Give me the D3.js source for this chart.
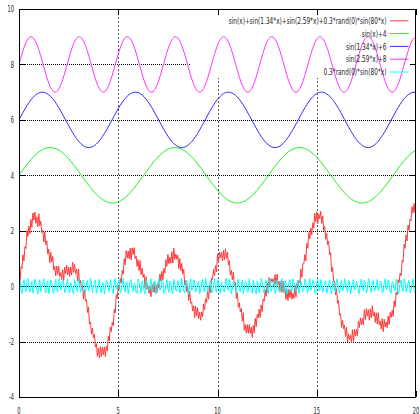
<!DOCTYPE html>
<html><head><meta charset="utf-8">
<script src="https://cdn.jsdelivr.net/npm/d3@7"></script>
<style>html,body{margin:0;padding:0;background:#fff;} svg{display:block;}</style>
</head><body>
<svg id="chart" width="420" height="414"></svg>
<script>
// ---------------- data ----------------
const xTicks = [0, 5, 10, 15, 20];
const yTicks = [-4, -2, 0, 2, 4, 6, 8, 10];
const seriesLabels = [
  "sin(x)+sin(1.34*x)+sin(2.59*x)+0.3*rand(0)*sin(80*x)",
  "sin(x)+4",
  "sin(1.34*x)+6",
  "sin(2.59*x)+8",
  "0.3*rand(0)*sin(80*x)"
];
// sample spacing along x for the listed values
const fineStep = 0.05;  // red, cyan (noisy series)
const coarseStep = 0.2; // green, blue, magenta (smooth series)

const redValues = [
  0, 0.10, 0.70, 0.64, 1.14, 0.91, 1.42, 1.36, 2.00, 1.79, 2.17, 1.89, 2.41, 2.12, 2.64, 2.38, 2.67, 2.27, 2.50, 2.14,
  2.61, 2.18, 2.34, 1.93, 2.02, 1.59, 1.95, 1.49, 1.63, 1.16, 1.34, 0.84, 1.22, 0.87, 1.07, 0.58, 0.72, 0.37, 0.73, 0.42,
  0.72, 0.34, 0.49, 0.24, 0.59, 0.20, 0.69, 0.45, 0.76, 0.40, 0.69, 0.35, 0.69, 0.40, 0.87, 0.50, 0.78, 0.46, 0.62, 0.19,
  0.62, 0.08, 0.21, -0.09, 0.04, -0.47, -0.14, -0.54, -0.49, -0.95, -0.75, -1.37, -1.29, -1.73, -1.51, -1.87, -1.74, -2.20, -2.07, -2.53,
  -2.24, -2.59, -2.18, -2.54, -2.20, -2.47, -2.20, -2.54, -2.17, -2.34, -1.80, -1.98, -1.48, -1.64, -1.30, -1.43, -0.83, -0.97, -0.31, -0.44,
  0.02, -0.13, 0.27, 0.11, 0.57, 0.43, 0.99, 0.77, 1.29, 1.01, 1.26, 0.99, 1.37, 0.95, 1.38, 1.15, 1.39, 0.99, 1.09, 0.71,
  0.96, 0.56, 0.92, 0.42, 0.65, 0.32, 0.43, -0.06, 0.34, -0.12, 0.02, -0.26, -0.01, -0.38, 0.07, -0.22, 0.13, -0.23, 0.05, -0.23,
  0.10, -0.07, 0.44, 0.18, 0.53, 0.23, 0.64, 0.47, 0.95, 0.72, 1.14, 0.81, 1.05, 0.83, 1.24, 0.83, 1.37, 0.97, 1.16, 0.97,
  1.12, 0.63, 1.00, 0.56, 0.82, 0.43, 0.61, 0.04, 0.20, -0.20, -0.01, -0.52, -0.18, -0.62, -0.57, -0.90, -0.71, -1.14, -0.72, -1.08,
  -0.78, -1.17, -0.94, -1.23, -0.93, -1.10, -0.64, -0.86, -0.45, -0.59, -0.15, -0.47, -0.05, -0.23, 0.28, 0.24, 0.60, 0.38, 0.74, 0.51,
  1.16, 0.85, 1.23, 1.02, 1.22, 0.91, 1.29, 0.94, 1.35, 1.00, 1.23, 0.76, 0.92, 0.40, 0.57, 0.22, 0.50, 0.01, 0.13, -0.45,
  -0.24, -0.76, -0.60, -0.92, -0.81, -1.26, -0.96, -1.59, -1.39, -1.69, -1.39, -1.70, -1.39, -1.70, -1.48, -1.85, -1.42, -1.69, -1.16, -1.46,
  -1.02, -1.15, -0.83, -1.13, -0.68, -0.92, -0.46, -0.55, -0.13, -0.37, 0.11, -0.24, 0.31, 0.00, 0.27, 0.14, 0.27, 0.00, 0.42, 0.05,
  0.43, 0.05, 0.18, -0.18, 0.19, -0.22, 0.17, -0.22, -0.09, -0.48, -0.13, -0.52, -0.11, -0.41, -0.15, -0.47, -0.26, -0.45, 0.05, -0.39,
  0.10, -0.08, 0.20, 0.11, 0.62, 0.32, 0.81, 0.81, 1.14, 0.91, 1.55, 1.37, 1.93, 1.72, 2.10, 1.85, 2.29, 2.09, 2.63, 2.33,
  2.68, 2.26, 2.60, 2.43, 2.70, 2.26, 2.53, 2.01, 2.15, 1.69, 1.91, 1.49, 1.62, 1.13, 1.21, 0.52, 0.68, 0.17, 0.18, -0.32,
  -0.08, -0.62, -0.52, -1.05, -1.00, -1.49, -1.23, -1.54, -1.41, -1.82, -1.48, -2.02, -1.72, -1.92, -1.77, -2.04, -1.57, -2.00, -1.56, -1.80,
  -1.56, -1.79, -1.26, -1.49, -1.14, -1.38, -1.17, -1.40, -0.85, -1.21, -0.81, -1.08, -0.85, -1.23, -0.82, -1.15, -0.71, -1.08, -0.93, -1.31,
  -0.96, -1.37, -0.96, -1.39, -1.26, -1.55, -1.17, -1.64, -1.20, -1.47, -1.29, -1.50, -1.08, -1.38, -0.95, -1.13, -0.88, -1.09, -0.53, -0.75,
  -0.22, -0.32, 0.23, 0.13, 0.47, 0.38, 0.93, 0.87, 1.51, 1.36, 1.85, 1.63, 2.20, 2.01, 2.42, 2.36, 2.87, 2.64, 2.98, 2.66,
  3.01
];

const greenValues = [
  4, 4.199, 4.389, 4.565, 4.717, 4.841, 4.932, 4.985, 5.000, 4.974,
  4.909, 4.808, 4.675, 4.516, 4.335, 4.141, 3.942, 3.744, 3.557, 3.388,
  3.243, 3.128, 3.048, 3.006, 3.004, 3.041, 3.117, 3.227, 3.369, 3.535,
  3.721, 3.917, 4.117, 4.312, 4.494, 4.657, 4.794, 4.899, 4.968, 4.999,
  4.989, 4.941, 4.855, 4.734, 4.585, 4.412, 4.223, 4.025, 3.826, 3.634,
  3.456, 3.300, 3.172, 3.077, 3.019, 3.000, 3.021, 3.080, 3.177, 3.306,
  3.463, 3.642, 3.834, 4.034, 4.232, 4.420, 4.592, 4.740, 4.860, 4.944,
  4.991, 4.998, 4.966, 4.895, 4.788, 4.650, 4.487, 4.303, 4.108, 3.908,
  3.712, 3.528, 3.362, 3.222, 3.113, 3.039, 3.003, 3.007, 3.051, 3.133,
  3.249, 3.395, 3.565, 3.753, 3.950, 4.150, 4.343, 4.523, 4.682, 4.814,
  4.913
];

const blueValues = [
  6, 6.265, 6.511, 6.720, 6.878, 6.974, 6.999, 6.954, 6.840, 6.667,
  6.445, 6.192, 5.926, 5.664, 5.427, 5.230, 5.089, 5.012, 5.006, 5.071,
  5.203, 5.391, 5.622, 5.881, 6.148, 6.405, 6.632, 6.815, 6.939, 6.997,
  6.983, 6.899, 6.750, 6.549, 6.308, 6.045, 5.779, 5.528, 5.312, 5.144,
  5.038, 5.000, 5.034, 5.136, 5.301, 5.515, 5.764, 6.030, 6.293, 6.536,
  6.740, 6.892, 6.980, 6.998, 6.944, 6.824, 6.644, 6.419, 6.163, 5.896,
  5.636, 5.403, 5.212, 5.077, 5.008, 5.010, 5.083, 5.221, 5.414, 5.650,
  5.911, 6.177, 6.432, 6.655, 6.832, 6.949, 6.999, 6.977, 6.885, 6.731,
  6.524, 6.279, 6.015, 5.750, 5.502, 5.290, 5.129, 5.030, 5.000, 5.042,
  5.151, 5.322, 5.541, 5.793, 6.059, 6.322, 6.561, 6.760, 6.905, 6.985,
  6.995
];

const magentaValues = [
  8, 8.495, 8.861, 9.000, 8.877, 8.524, 8.034, 7.534, 7.157, 7.001,
  7.107, 7.448, 7.933, 8.436, 8.824, 8.996, 8.907, 8.580, 8.101, 7.595,
  7.195, 7.007, 7.079, 7.393, 7.866, 8.374, 8.784, 8.989, 8.934, 8.634,
  8.167, 7.657, 7.237, 7.017, 7.055, 7.341, 7.800, 8.311, 8.741, 8.976,
  8.956, 8.684, 8.233, 7.721, 7.282, 7.032, 7.035, 7.292, 7.734, 8.247,
  8.694, 8.959, 8.973, 8.731, 8.298, 7.786, 7.330, 7.050, 7.020, 7.246,
  7.670, 8.181, 8.644, 8.938, 8.986, 8.775, 8.361, 7.852, 7.382, 7.074,
  7.009, 7.204, 7.608, 8.115, 8.591, 8.913, 8.995, 8.816, 8.423, 7.919,
  7.436, 7.101, 7.002, 7.165, 7.547, 8.048, 8.536, 8.884, 9.000, 8.853,
  8.483, 7.986, 7.493, 7.132, 7.000, 7.130, 7.488, 7.980, 8.478, 8.850,
  8.999
];

const cyanValues = [
  0, .21, -.13, -.27, .09, .24, -.05, -.19, .16, .28, -.11, -.22, .03, .18, -.25, -.08, .26, .12, -.16, -.29,
  .07, .23, -.2, -.04, .15, .27, -.12, -.24, .1, .19, -.28, -.06, .22, .13, -.17, -.26, .05, .25, -.09, -.21,
  .17, .29, -.14, -.02, .2, .11, -.23, -.18, .08, .26, -.07, -.25, .14, .03, -.19, -.28, .24, .1, -.12, -.2,
  .27, .06, -.22, -.15, .18, .23, -.04, -.27, .12, .2, -.16, -.09, .28, .15, -.24, -.01, .09, .22, -.26, -.13,
  .04, .25, -.18, -.23, .13, .08, -.29, -.1, .21, .16, -.06, -.2, .24, .02, -.14, -.27, .19, .27, -.11, -.03,
  .15, .22, -.25, -.16, .06, .28, -.08, -.21, .17, .11, -.27, -.05, .2, .24, -.13, -.19, .1, .03, -.22, -.26,
  .26, .14, -.02, -.24, .19, .07, -.17, -.28, .23, .12, -.1, -.15, .05, .27, -.21, -.07, .16, .2, -.28, -.12,
  .09, .28, -.15, -.03, .22, .17, -.26, -.19, .01, .24, -.08, -.23, .18, .1, -.2, -.27, .25, .06, -.14, -.18,
  .2, .12, -.24, -.09, .27, .04, -.18, -.25, .14, .21, -.03, -.28, .11, .26, -.16, -.06, .23, .15, -.21, -.1,
  .06, .19, -.27, -.14, .1, .25, -.11, -.2, .28, .08, -.22, -.04, .16, .21, -.25, -.17, .03, .27, -.09, -.23,
  .24, .1, -.19, -.26, .14, .02, -.13, -.21, .2, .29, -.07, -.16, .25, .09, -.28, -.11, .18, .13, -.05, -.24,
  .12, .26, -.1, -.2, .05, .23, -.27, -.08, .17, .14, -.22, -.18, .27, .07, -.12, -.25, .21, .04, -.16, -.28,
  .19, .08, -.23, -.06, .28, .16, -.14, -.24, .09, .22, -.01, -.27, .13, .25, -.19, -.09, .06, .2, -.26, -.15,
  .23, .03, -.17, -.22, .11, .27, -.06, -.25, .2, .1, -.29, -.12, .15, .24, -.08, -.2, .26, .14, -.03, -.21,
  .08, .22, -.26, -.11, .18, .05, -.2, -.16, .25, .17, -.09, -.24, .02, .28, -.15, -.04, .21, .11, -.23, -.27,
  .13, .27, -.08, -.18, .24, .09, -.22, -.05, .16, .2, -.26, -.14, .07, .23, -.11, -.28, .19, .01, -.17, -.22,
  .26, .15, -.12, -.25, .04, .21, -.18, -.09, .27, .12, -.04, -.21, .2, .17, -.27, -.1, .1, .24, -.15, -.06,
  .18, .07, -.21, -.28, .13, .26, -.03, -.17, .22, .05, -.24, -.13, .28, .11, -.07, -.23, .15, .2, -.19, -.11,
  .02, .24, -.16, -.07, .19, .14, -.25, -.2, .1, .27, -.12, -.03, .23, .06, -.21, -.26, .17, .09, -.1, -.18,
  .25, .11, -.28, -.15, .08, .22, -.06, -.19, .26, .16, -.2, -.08, .12, .21, -.24, -.14, .04, .27, -.13, -.22,
  .1
];

// ---------------- styles / layout ----------------
const colors = ["#ff3a3a", "#22ee22", "#3030ff", "#ff30ff", "#00ffff"];
const FONT = "'DejaVu Sans', 'Liberation Sans', sans-serif";
const plot = {left: 19, right: 416, top: 9, bottom: 397};
const keyArea = {x0: 190, x1: 416, y0: 9, y1: 78};

const svg = d3.select("#chart");
svg.append("rect").attr("width", 420).attr("height", 414).attr("fill", "#fff");

const x = d3.scaleLinear().domain([0, 20]).range([plot.left, plot.right]);
const y = d3.scaleLinear().domain([-4, 10]).range([plot.bottom, plot.top]);

function fitText(sel, k) {
  sel.each(function () {
    const w = this.getComputedTextLength();
    this.setAttribute("textLength", (w * k).toFixed(2));
    this.setAttribute("lengthAdjust", "spacingAndGlyphs");
  });
}

// grid
const grid = svg.append("g");
grid.selectAll("line.h").data(yTicks.filter(v => v > -4 && v < 10)).join("line")
  .attr("x1", plot.left).attr("x2", plot.right)
  .attr("y1", d => Math.round(y(d)) + 0.5).attr("y2", d => Math.round(y(d)) + 0.5)
  .attr("stroke", "#000").attr("stroke-width", 1).attr("stroke-dasharray", "1,1");
grid.selectAll("line.v").data(xTicks.filter(v => v > 0 && v < 20)).join("line")
  .attr("x1", d => Math.round(x(d)) + 0.5).attr("x2", d => Math.round(x(d)) + 0.5)
  .attr("y1", plot.top).attr("y2", plot.bottom)
  .attr("stroke", "#555").attr("stroke-width", 1).attr("stroke-dasharray", "2,2");

// key area hides the grid
svg.append("rect").attr("x", keyArea.x0).attr("y", keyArea.y0)
  .attr("width", keyArea.x1 - keyArea.x0).attr("height", keyArea.y1 - keyArea.y0)
  .attr("fill", "#fff");

// ticks (all four borders, inward)
const tickLen = 6;
const ticks = svg.append("g").attr("stroke", "#000").attr("stroke-width", 1);
xTicks.forEach(v => {
  const px = Math.round(x(v)) + 0.5;
  ticks.append("line").attr("x1", px).attr("x2", px).attr("y1", plot.bottom).attr("y2", plot.bottom - tickLen);
  ticks.append("line").attr("x1", px).attr("x2", px).attr("y1", plot.top).attr("y2", plot.top + tickLen);
});
yTicks.forEach(v => {
  const py = Math.round(y(v)) + 0.5;
  ticks.append("line").attr("y1", py).attr("y2", py).attr("x1", plot.left).attr("x2", plot.left + tickLen);
  ticks.append("line").attr("y1", py).attr("y2", py).attr("x1", plot.right).attr("x2", plot.right - tickLen);
});

// clip
svg.append("clipPath").attr("id", "clip").append("rect")
  .attr("x", plot.left).attr("y", plot.top)
  .attr("width", plot.right - plot.left).attr("height", plot.bottom - plot.top);

const series = [
  {values: redValues, step: fineStep, curve: d3.curveLinear},
  {values: greenValues, step: coarseStep, curve: d3.curveNatural},
  {values: blueValues, step: coarseStep, curve: d3.curveNatural},
  {values: magentaValues, step: coarseStep, curve: d3.curveNatural},
  {values: cyanValues, step: fineStep, curve: d3.curveLinear}
];

const curves = svg.append("g").attr("clip-path", "url(#clip)");
series.forEach((s, i) => {
  const line = d3.line().x((d, j) => x(j * s.step)).y(d => y(d)).curve(s.curve);
  curves.append("path").attr("d", line(s.values))
    .attr("fill", "none").attr("stroke", colors[i]).attr("stroke-width", 1);
});

// legend
const legend = svg.append("g");
const rowY0 = 20.8, rowStep = 12.8, textRight = 386.5, sampleX0 = 390, sampleX1 = 408.5;
seriesLabels.forEach((lab, i) => {
  const ry = rowY0 + i * rowStep;
  legend.append("line").attr("x1", sampleX0).attr("x2", sampleX1)
    .attr("y1", ry).attr("y2", ry).attr("stroke", colors[i]).attr("stroke-width", 1);
  legend.append("text").attr("x", textRight).attr("y", ry + 3.2)
    .attr("text-anchor", "end").attr("font-family", FONT).attr("font-size", 9.2)
    .attr("fill", "#222").text(lab);
});
fitText(legend.selectAll("text"), 0.63);

// tick labels
const labels = svg.append("g").attr("font-family", FONT).attr("font-size", 9.3).attr("fill", "#222");
labels.selectAll("text.y").data(yTicks).join("text")
  .attr("x", 14).attr("y", d => y(d) + 3.4).attr("text-anchor", "end").text(d => d);
labels.selectAll("text.x").data(xTicks).join("text")
  .attr("x", d => x(d)).attr("y", 413.5).attr("text-anchor", "middle").text(d => d);
fitText(labels.selectAll("text"), 0.55);

// border
svg.append("rect").attr("x", plot.left + 0.5).attr("y", plot.top + 0.5)
  .attr("width", plot.right - plot.left - 1).attr("height", plot.bottom - plot.top)
  .attr("fill", "none").attr("stroke", "#000").attr("stroke-width", 1);
</script>
</body></html>
